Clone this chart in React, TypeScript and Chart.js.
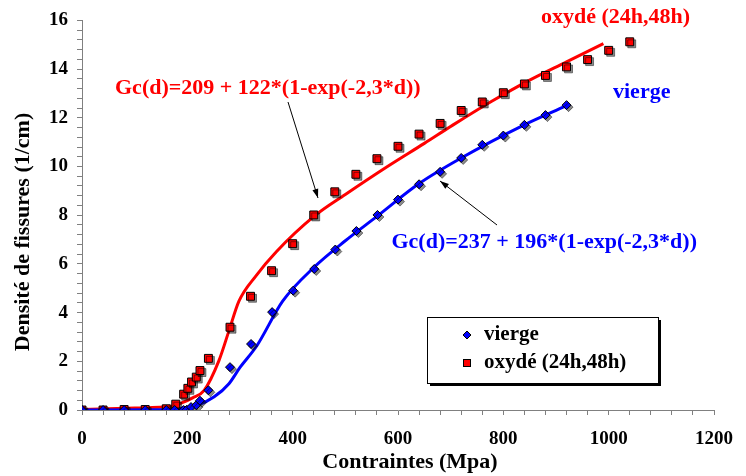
import React, { useEffect, useRef } from 'react';
import { Chart, registerables } from 'chart.js';

Chart.register(...registerables);

// ---- data ----
const viergeX = [0, 40, 80, 120, 160, 176, 193, 199, 207, 217, 224, 240, 281, 321, 361, 401, 441, 481, 521, 561, 600, 640, 680, 720, 760, 800, 840, 880, 920];
const viergeY = [0, 0, 0, 0, 0, 0, 0, 0.01, 0.12, 0.2, 0.38, 0.81, 1.76, 2.71, 4.02, 4.9, 5.79, 6.59, 7.35, 8.01, 8.64, 9.27, 9.78, 10.35, 10.89, 11.27, 11.71, 12.11, 12.52];

const oxydeX = [0, 40, 80, 120, 160, 178, 193, 201, 208, 217, 224, 240, 281, 320, 360, 400, 440, 480, 520, 560, 600, 640, 680, 720, 760, 800, 840, 880, 920, 960, 1000, 1040];
const oxydeY = [0, 0, 0.02, 0.02, 0.05, 0.24, 0.65, 0.89, 1.15, 1.35, 1.62, 2.12, 3.4, 4.67, 5.72, 6.83, 8.01, 8.96, 9.68, 10.32, 10.83, 11.33, 11.77, 12.3, 12.65, 13.03, 13.39, 13.74, 14.09, 14.39, 14.77, 15.12];

const fitViergeX = [0, 150, 189, 220, 251, 279, 300, 332, 381, 441, 500, 560, 640, 720, 834, 920];
const fitViergeY = [0, 0.01, 0.07, 0.2, 0.54, 1.08, 1.75, 2.64, 4.47, 5.87, 6.95, 7.95, 9.3, 10.35, 11.65, 12.5];

const fitOxydeX = [0, 100, 170, 188, 210, 232, 260, 279, 298, 330, 369, 441, 500, 580, 650, 704, 778, 850, 920, 990];
const fitOxydeY = [0.02, 0.08, 0.15, 0.28, 0.5, 0.81, 2.03, 3.25, 4.47, 5.5, 6.5, 7.96, 8.85, 10.0, 10.95, 11.7, 12.68, 13.55, 14.3, 15.05];

const xMajorTicks = [0, 200, 400, 600, 800, 1000, 1200];
const yMajorTicks = [0, 2, 4, 6, 8, 10, 12, 14, 16];

const seriesNames = ['vierge', 'oxydé (24h,48h)'];
const formulaOxyde = 'Gc(d)=209 + 122*(1-exp(-2,3*d))';
const formulaVierge = 'Gc(d)=237 + 196*(1-exp(-2,3*d))';
const xTitle = 'Contraintes (Mpa)';
const yTitle = 'Densité de fissures (1/cm)';

const SERIF = '"Liberation Serif", "Times New Roman", serif';
const RED = '#ff0000';
const BLUE = '#0000ff';

const toPts = (xs: number[], ys: number[]) => xs.map((x, i) => ({ x, y: ys[i] }));

function arrow(ctx: CanvasRenderingContext2D, x1: number, y1: number, x2: number, y2: number) {
  ctx.save();
  ctx.strokeStyle = '#000';
  ctx.fillStyle = '#000';
  ctx.lineWidth = 1;
  ctx.beginPath();
  ctx.moveTo(x1, y1);
  ctx.lineTo(x2, y2);
  ctx.stroke();
  const a = Math.atan2(y2 - y1, x2 - x1);
  const L = 9, W = 3;
  ctx.beginPath();
  ctx.moveTo(x2, y2);
  ctx.lineTo(x2 - L * Math.cos(a) + W * Math.sin(a), y2 - L * Math.sin(a) - W * Math.cos(a));
  ctx.lineTo(x2 - L * Math.cos(a) - W * Math.sin(a), y2 - L * Math.sin(a) + W * Math.cos(a));
  ctx.closePath();
  ctx.fill();
  ctx.restore();
}

const annotPlugin = {
  id: 'annot',
  beforeDatasetDraw(chart: any, args: any) {
    const ds = chart.data.datasets[args.index];
    if (!ds.showLine) {
      const ctx = chart.ctx;
      ctx.save();
      ctx.shadowColor = 'rgba(0,0,0,0.45)';
      ctx.shadowOffsetX = 2;
      ctx.shadowOffsetY = 2;
      ctx.shadowBlur = 0;
    }
  },
  afterDatasetDraw(chart: any, args: any) {
    const ds = chart.data.datasets[args.index];
    if (!ds.showLine) chart.ctx.restore();
  },
  afterDraw(chart: any) {
    const ctx: CanvasRenderingContext2D = chart.ctx;
    ctx.save();
    ctx.textBaseline = 'middle';
    // annotations
    ctx.font = `bold 22px ${SERIF}`;
    ctx.fillStyle = RED;
    ctx.textAlign = 'left';
    ctx.fillText(formulaOxyde, 115, 88);
    ctx.fillText(seriesNames[1], 541, 17);
    ctx.fillStyle = BLUE;
    ctx.textAlign = 'right';
    ctx.fillText(formulaVierge, 697, 242);
    ctx.textAlign = 'left';
    ctx.fillText(seriesNames[0], 613, 92);

    arrow(ctx, 288, 102, 318, 198);
    arrow(ctx, 497, 225, 440, 181);

    // axis titles
    ctx.fillStyle = '#000';
    ctx.textAlign = 'center';
    ctx.fillText(xTitle, 410, 462);
    ctx.save();
    ctx.translate(23, 232);
    ctx.rotate(-Math.PI / 2);
    ctx.fillText(yTitle, 0, 0);
    ctx.restore();

    // legend box
    const bx = 427, by = 317, bw = 231, bh = 66;
    ctx.fillStyle = '#000';
    ctx.fillRect(bx + 3, by + 3, bw, bh);
    ctx.fillStyle = '#fff';
    ctx.fillRect(bx, by, bw, bh);
    ctx.strokeStyle = '#000';
    ctx.lineWidth = 1;
    ctx.strokeRect(bx + 0.5, by + 0.5, bw, bh);

    // legend markers
    const mx = 467;
    ctx.fillStyle = BLUE;
    ctx.beginPath();
    ctx.moveTo(mx - 4, 335);
    ctx.lineTo(mx, 331);
    ctx.lineTo(mx + 4, 335);
    ctx.lineTo(mx, 339);
    ctx.closePath();
    ctx.fill();
    ctx.strokeStyle = '#000';
    ctx.stroke();
    ctx.fillStyle = RED;
    ctx.fillRect(mx - 4, 359, 8, 8);
    ctx.strokeRect(mx - 4 + 0.5, 359 + 0.5, 7, 7);

    ctx.fillStyle = '#000';
    ctx.textAlign = 'left';
    ctx.font = `bold 21px ${SERIF}`;
    ctx.fillText(seriesNames[0], 484, 335);
    ctx.fillText(seriesNames[1], 484, 363);
    ctx.restore();
  },
};

export default function App() {
  const ref = useRef<HTMLCanvasElement | null>(null);

  useEffect(() => {
    document.body.style.margin = '0';
    const canvas = ref.current;
    if (!canvas) return;
    const isMajor = (v: number, list: number[]) => list.some((t) => Math.abs(t - v) < 1e-6);
    const chart = new Chart(canvas, {
      type: 'scatter',
      data: {
        datasets: [
          {
            label: seriesNames[0],
            data: toPts(viergeX, viergeY),
            showLine: false,
            pointStyle: 'rectRot',
            pointRadius: 4.5,
            pointBackgroundColor: BLUE,
            pointBorderColor: '#000',
            pointBorderWidth: 1,
            order: 0,
          },
          {
            label: seriesNames[1],
            data: toPts(oxydeX, oxydeY),
            showLine: false,
            pointStyle: 'rect',
            pointRadius: 5.6,
            pointBackgroundColor: RED,
            pointBorderColor: '#000',
            pointBorderWidth: 1,
            order: 0,
          },
          {
            label: 'fit vierge',
            data: toPts(fitViergeX, fitViergeY),
            showLine: true,
            borderColor: BLUE,
            borderWidth: 3,
            pointRadius: 0,
            cubicInterpolationMode: 'monotone',
            order: 1,
          },
          {
            label: 'fit oxydé',
            data: toPts(fitOxydeX, fitOxydeY),
            showLine: true,
            borderColor: RED,
            borderWidth: 3,
            pointRadius: 0,
            cubicInterpolationMode: 'monotone',
            order: 1,
          },
        ],
      },
      options: {
        animation: false,
        responsive: false,
        layout: { padding: { left: 0, right: 20, top: 16, bottom: 0 }, autoPadding: false },
        plugins: { legend: { display: false }, tooltip: { enabled: false } },
        scales: {
          x: {
            type: 'linear',
            min: 0,
            max: 1200,
            afterFit: (s: any) => { s.height = 66; },
            ticks: {
              stepSize: 40,
              autoSkip: false,
              maxRotation: 0,
              padding: 13,
              color: '#000',
              font: { family: SERIF, size: 19, weight: 'bold' },
              callback: (v: any) => (isMajor(Number(v), xMajorTicks) ? String(v) : ''),
            },
            grid: { drawOnChartArea: false, drawTicks: true, tickLength: 5, color: '#808080' },
            border: { display: true, color: '#808080', width: 1 },
          },
          y: {
            type: 'linear',
            min: 0,
            max: 16,
            afterFit: (s: any) => { s.width = 82; },
            ticks: {
              stepSize: 0.4,
              autoSkip: false,
              padding: 9,
              color: '#000',
              font: { family: SERIF, size: 19, weight: 'bold' },
              callback: (v: any) => {
                const n = Number(v);
                const m = yMajorTicks.find((t) => Math.abs(t - n) < 1e-6);
                return m === undefined ? '' : String(m);
              },
            },
            grid: { drawOnChartArea: false, drawTicks: true, tickLength: 5, color: '#808080' },
            border: { display: true, color: '#808080', width: 1 },
          },
        },
      },
      plugins: [annotPlugin],
    } as any);
    return () => chart.destroy();
  }, []);

  return (
    <div style={{ position: 'fixed', left: 0, top: 0, width: 746, height: 476, background: '#fff' }}>
      <canvas ref={ref} width={746} height={476} style={{ display: 'block', width: 746, height: 476 }} />
    </div>
  );
}
